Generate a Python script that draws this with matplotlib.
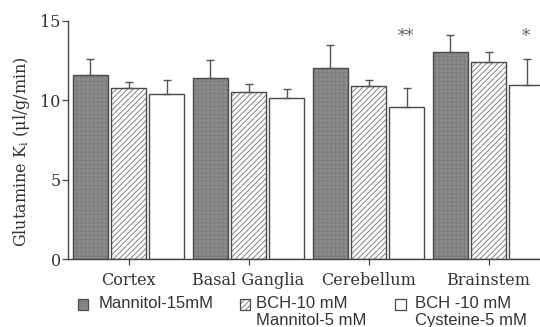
import matplotlib
matplotlib.use("Agg")
import matplotlib.pyplot as plt
import numpy as np
from matplotlib.patches import Rectangle

# data
regions = ["Cortex", "Basal Ganglia", "Cerebellum", "Brainstem"]
mannitol = [11.57, 11.40, 12.00, 13.03]
mannitol_err = [1.04, 1.15, 1.47, 1.05]
bch_mann = [10.77, 10.50, 10.89, 12.42]
bch_mann_err = [0.35, 0.52, 0.36, 0.61]
bch_cys = [10.37, 10.16, 9.59, 10.97]
bch_cys_err = [0.90, 0.56, 1.20, 1.64]
labels = ["Mannitol-15mM", "BCH-10 mM\nMannitol-5 mM", "BCH -10 mM\nCysteine-5 mM"]
stars = ["", "", "**", "*"]

plt.rcParams['hatch.linewidth'] = 0.7
serif = "DejaVu Serif"
sans = "Liberation Sans"

fig = plt.figure(figsize=(5.4, 3.27), dpi=100)
W, H = 540.0, 327.0
ax = fig.add_axes([67.7/W, 1 - 259.3/H, (545 - 67.7)/W, (259.3 - 20.7)/H])

x = np.arange(len(regions))
w = 0.292
d = 0.319
ek = dict(ecolor='#555555', elinewidth=1.0, capsize=3, capthick=1.0)
edge = '#4a4a4a'
dark = '#8c8c8c'
styles = [(dark, '++++', '#7c7c7c'), ('white', '//////', '#808080'), ('white', None, 'white')]

series = [(mannitol, mannitol_err), (bch_mann, bch_mann_err), (bch_cys, bch_cys_err)]
for k, ((vals, err), (fc, hatch, hc)) in enumerate(zip(series, styles)):
    pos = x + (k - 1) * d
    # fill + texture, then outline and error bars on top
    ax.bar(pos, vals, w, color=fc, edgecolor=hc, linewidth=0, hatch=hatch)
    ax.bar(pos, vals, w, fill=False, edgecolor=edge, linewidth=1.0,
           yerr=[np.zeros(len(vals)), err], error_kw=ek)

for i, s in enumerate(stars):
    if s:
        ax.text(x[i] + d - 0.01, 13.5, s, ha='center', va='bottom',
                fontsize=12, color='#666666', family=serif)

ax.set_ylim(0, 15)
ax.set_xlim((67.7 - 128.5)/120, (545 - 128.5)/120)
ax.set_yticks([0, 5, 10, 15])
ax.set_xticks(x)
ax.set_xticklabels(regions, family=serif, fontsize=11.5)
for t in ax.get_yticklabels():
    t.set_family(serif)
    t.set_fontsize(11.5)
ax.tick_params(axis='both', direction='out', length=4, width=0.9, color='#444444',
               labelcolor='#333333')
ax.tick_params(axis='y', pad=1)
ax.tick_params(axis='x', pad=5)
for s in ['top', 'right']:
    ax.spines[s].set_visible(False)
for s in ['left', 'bottom']:
    ax.spines[s].set_color('#444444')
    ax.spines[s].set_linewidth(1.0)

ax.set_ylabel("Glutamine K$_\\mathregular{i}$ ($\\mathregular{\\mu}$l/g/min)",
              family=serif, fontsize=11.5, color='#333333')
ax.yaxis.set_label_coords(-(67.7 - 32) / 477.3, 0.45)

# legend drawn by hand so the swatch sits on the first text line
sw_x = [77.5, 239.5, 395]
tx_x = [99, 256, 415]
for k, (lab, (fc, hatch, hc)) in enumerate(zip(labels, styles)):
    fig.add_artist(Rectangle((sw_x[k]/W, 1 - 309.5/H), 10.5/W, 10.5/H,
                             transform=fig.transFigure, facecolor=fc,
                             edgecolor=hc, hatch=hatch, linewidth=0))
    fig.add_artist(Rectangle((sw_x[k]/W, 1 - 309.5/H), 10.5/W, 10.5/H,
                             transform=fig.transFigure, fill=False,
                             edgecolor=edge, linewidth=0.9))
    for j, line in enumerate(lab.split("\n")):
        fig.text(tx_x[k]/W, 1 - (308.5 + 16.7*j)/H, line, va='baseline',
                 ha='left', family=sans, fontsize=12, color='#333333')

fig.savefig("out.png", dpi=100)
